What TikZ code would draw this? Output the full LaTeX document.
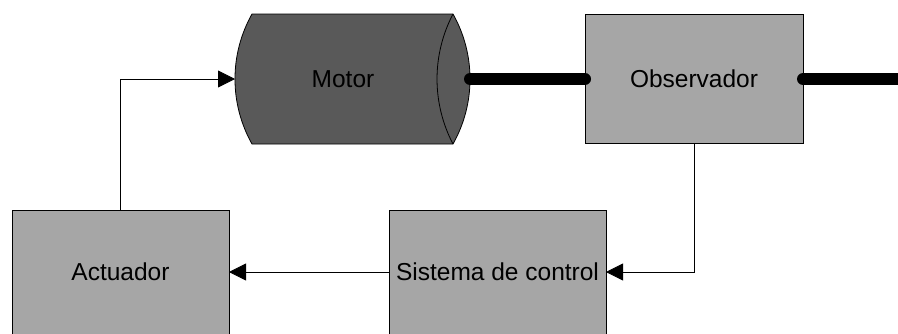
\documentclass[tikz,border=0pt]{standalone}
\usepackage{fontspec}
\setmainfont{Liberation Sans}
\usetikzlibrary{arrows.meta}
\definecolor{boxgray}{HTML}{A6A6A6}
\definecolor{motorgray}{HTML}{595959}
\tikzset{
  block/.style={draw=black, line width=0.8pt, fill=boxgray, rectangle, outer sep=0pt, inner sep=0pt, font=\fontsize{24.5}{29}\selectfont},
  link/.style={draw=black, line width=0.8pt, -{Triangle[length=17pt,width=17pt]}},
  shaft/.style={draw=black, line width=12pt, line cap=round},
  lbl/.style={font=\fontsize{24.5}{29}\selectfont, inner sep=0pt}
}
\begin{document}
\begin{tikzpicture}[x=1pt,y=-1pt]
\useasboundingbox (0,0) rectangle (898,333);
% motor shape
\draw[line width=0.8pt, fill=motorgray] (252,14) -- (453,14)
  .. controls (475.7,54.4) and (475.7,103.6) .. (453,144) -- (252,144)
  .. controls (229.3,103.6) and (229.3,54.4) .. (252,14) -- cycle;
\draw[line width=0.8pt] (453,14) .. controls (431.7,54.7) and (431.7,103.3) .. (453,144);
\node[lbl] (motor) at (343,79) {Motor};
\coordinate (motorL) at (235,79);
\coordinate (motorR) at (470,79);
% blocks
\node[block, minimum width=218pt, minimum height=129pt] (obs) at (694,79) {Observador};
\node[block, minimum width=217pt, minimum height=124pt] (act) at (120.5,272) {Actuador};
\node[block, minimum width=217pt, minimum height=124pt] (sis) at (497.5,272) {Sistema de control};
\coordinate (shaftEnd) at (912,79);
% shafts
\draw[shaft] (motorR) -- (obs.west);
\draw[shaft] (obs.east) -- (shaftEnd);
% signal links
\draw[link] (act.north) |- (motorL);
\draw[link] (obs.south) |- (sis.east);
\draw[link] (sis.west) -- (act.east);
\end{tikzpicture}
\end{document}
